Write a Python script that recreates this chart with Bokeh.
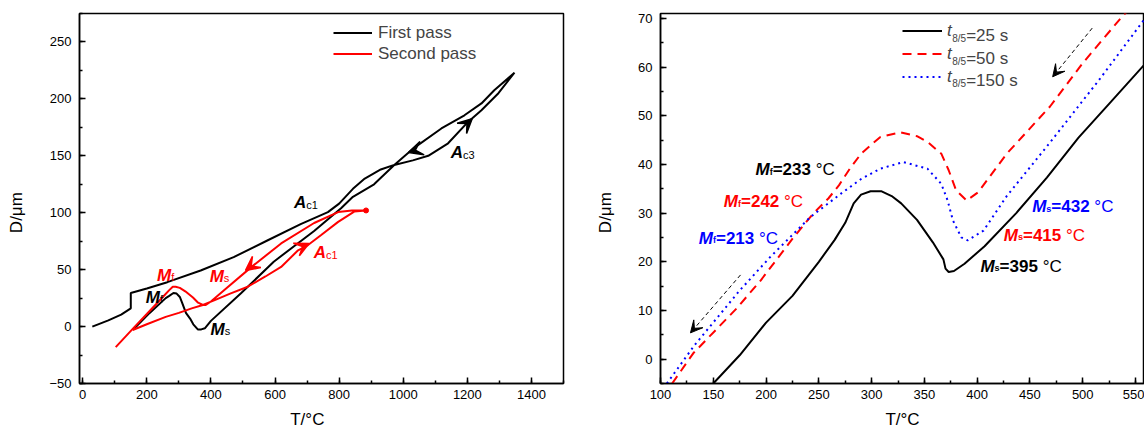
from bokeh.plotting import figure
from bokeh.models import (Label, Arrow, VeeHead, Legend, LegendItem, Range1d,
                          SingleIntervalTicker)
from bokeh.layouts import row
from bokeh.embed import file_html
from bokeh.resources import INLINE

FONT = "Liberation Sans"
RED = "#ff0000"
BLUE = "#0000ff"
NB = "\u00a0"

# ---------------- left panel data (T in degC, D in um) ----------------
first_T = [30, 80, 120, 150, 150, 200, 264, 368, 471, 576, 680, 765, 800, 843, 880, 930, 972,
           1030, 1078, 1140, 1203, 1244, 1297, 1347,
           1284, 1244, 1191, 1119, 1034, 972, 909, 843, 806, 722, 596, 493, 400, 381, 370,
           359, 345, 335, 322, 310, 303, 293, 283, 270, 259, 209, 160]
first_D = [0, 5.5, 10.5, 16, 29.5, 33.5, 39, 49.3, 61, 75.6, 90, 100.5, 108, 121, 130, 138, 142,
           146, 150, 161, 180, 190, 205, 223,
           207.6, 196, 185.6, 174, 157, 142, 125, 114, 104, 84, 57, 29, 5, -1.5, -2.5,
           -2.5, 2, 7, 12, 21, 26, 29, 29.5, 27, 25, 12, -2]

second_T = [156, 200, 259, 300, 340, 375, 410, 460, 515, 570, 619, 672, 703, 744, 797, 847, 884,
            840, 797, 722, 619, 525, 441, 400, 384, 375, 360, 344, 320, 303, 290, 281, 270, 250,
            200, 156, 103]
second_D = [-3, 2, 8.5, 12, 16, 19, 23, 29, 35, 44, 52.4, 67, 71.6, 80.4, 92, 101, 102,
            102, 100.6, 91, 73, 52, 32, 22, 19, 19, 21, 25.5, 31, 34, 35, 35, 32, 26,
            11, -2, -18]

# arrows on the curves (start -> tip)
arrL_x0 = [1190, 1045, 680, 530]
arrL_y0 = [176, 155.5, 69.5, 54]
arrL_x1 = [1215, 1017, 706, 508]
arrL_y1 = [182.5, 153, 73, 49.3]
arrL_col = ["black", "black", RED, RED]

# labels  (main letter + subscript)
labL_x = [197, 399, 232, 396, 721, 659, 1148]
labL_y = [20.5, -7.8, 39.9, 39, 59.5, 103.5, 147.4]
labL_main = ["M", "M", "M", "M", "A", "A", "A"]
labL_sub = ["f", "s", "f", "s", "c1", "c1", "c3"]
labL_col = ["black", "black", RED, RED, RED, "black", "black"]

# ---------------- right panel data ----------------
t25_T = [150, 175, 200, 225, 250, 265, 275, 283, 290, 299, 309, 319, 328, 343, 358, 368, 370,
         373, 378, 388, 407, 437, 466, 496, 526, 558]
t25_D = [-5, 0.8, 7.5, 13, 20, 24.5, 28, 32, 33.8, 34.5, 34.5, 33.5, 32, 28.6, 24, 20.5, 18.6,
         17.9, 18.1, 19.6, 23.2, 30, 37.3, 45.5, 52.7, 60.4]

t50_T = [111, 131, 172, 195, 226, 245, 259, 269, 279, 290, 308, 327, 343, 353, 366, 373, 380,
         390, 401, 428, 469, 500, 537, 556]
t50_D = [-5, 1.2, 10.4, 16.2, 25, 30, 33, 35.7, 39, 42.2, 45.6, 46.6, 45.8, 44.6, 42.2, 38.8,
         34.7, 32.6, 34.3, 42.2, 51.9, 60.8, 70.3, 74.5]

t150_T = [106, 132, 175, 204, 242, 271, 290, 308, 330, 353, 366, 372, 377, 385, 391, 406, 428,
          469, 516, 558]
t150_D = [-5, 2.8, 14.1, 21, 29.2, 34, 37, 39.1, 40.5, 39.1, 36, 32.6, 28.5, 25, 24.4, 26.4,
          33.5, 44.5, 57.5, 69.7]

arrR_x0 = [509, 175.8]
arrR_y0 = [68, 17.3]
arrR_x1 = [471.5, 128.4]
arrR_y1 = [58, 5.4]

labR_x = [190.0, 160.0, 136.3, 452.1, 425.2, 403.1]
labR_y = [37.7, 31.1, 23.6, 30.1, 24.2, 17.9]
labR_sub = ["f", "f", "f", "s", "s", "s"]
labR_val = ["=233", "=242", "=213", "=432", "=415", "=395"]
labR_col = ["black", RED, BLUE, BLUE, RED, "black"]

legR_sub = ["8/5", "8/5", "8/5"]
legR_val = ["=25 s", "=50 s", "=150 s"]
legR_x = 371.9
legR_y = [66.5, 61.8, 57.2]

# --------------- text width helper (Arial metrics) ---------------
REG = {' ': 278, '=': 584, '°': 400, 'C': 722, 'M': 833, 'f': 278, 's': 500, 'A': 667,
       'c': 500, 't': 278, '/': 278, 'D': 722, 'μ': 576, 'm': 833, 'T': 611}
BOLD = {' ': 278, '=': 584, '°': 400, 'C': 722, 'M': 833, 'f': 333, 's': 556, 'A': 722,
        'c': 556, '/': 278}
LIFT = 6  # px: move the annotation labels up so they sit where the reference shows them


def tw(s, size, bold=False):
    tab = BOLD if bold else REG
    return sum(tab.get(ch, 556) for ch in s) * size / 1000.0


def rich(p, x, y, pieces, color):
    off = 0.0
    for text, size, style, dy in pieces:
        bold = "bold" in style
        lead = len(text) - len(text.lstrip(" "))
        off += tw(" " * lead, size, bold)
        text = text.lstrip(" ")
        p.add_layout(Label(x=x, y=y, x_offset=off, y_offset=dy + LIFT, text=text,
                           text_font=FONT, text_font_size=f"{size}px", text_font_style=style,
                           text_color=color, text_baseline="alphabetic", text_align="left"))
        off += tw(text, size, bold)


def base(width, xr, yr, ml, mr, xint, yint, xlabel, ylabel):
    p = figure(width=width, height=433, x_range=Range1d(*xr), y_range=Range1d(*yr),
               output_backend="svg", toolbar_location=None,
               min_border_left=ml, min_border_right=mr, min_border_top=13, min_border_bottom=50)
    p.grid.visible = False
    p.outline_line_color = "black"
    p.outline_line_width = 1.5
    p.outline_line_alpha = 1
    p.xaxis.ticker = SingleIntervalTicker(interval=xint, num_minor_ticks=2)
    p.yaxis.ticker = SingleIntervalTicker(interval=yint, num_minor_ticks=2)
    for ax in (p.xaxis[0], p.yaxis[0]):
        ax.axis_line_width = 1.5
        ax.axis_line_color = "black"
        ax.major_tick_in = 6
        ax.major_tick_out = 0
        ax.minor_tick_in = 3
        ax.minor_tick_out = 0
        ax.major_tick_line_width = 1.5
        ax.minor_tick_line_width = 1.5
        ax.major_tick_line_color = "black"
        ax.minor_tick_line_color = "black"
        ax.major_label_text_font = FONT
        ax.major_label_text_font_size = "13px"
        ax.major_label_text_color = "black"
        ax.axis_label_text_font = FONT
        ax.axis_label_text_font_size = "17px"
        ax.axis_label_text_font_style = "normal"
        ax.axis_label_text_color = "black"
    p.xaxis.axis_label = xlabel
    p.yaxis.axis_label = ylabel
    p.xaxis.major_label_standoff = 6
    p.yaxis.major_label_standoff = 8
    p.xaxis.axis_label_standoff = 8
    p.yaxis.axis_label_standoff = 20
    return p


# ================= left figure =================
pL = base(565, (-10, 1500), (-50, 275), 79, 2, 200, 50, "T/°C" + NB * 6, "D/μm" + NB * 6)
r1 = pL.line(first_T, first_D, line_color="black", line_width=2)
r2 = pL.line(second_T, second_D, line_color=RED, line_width=2)
iend = second_T.index(max(second_T))
pL.scatter([second_T[iend]], [second_D[iend]], size=5, color=RED)

for x0, y0, x1, y1, c in zip(arrL_x0, arrL_y0, arrL_x1, arrL_y1, arrL_col):
    pL.add_layout(Arrow(x_start=x0, y_start=y0, x_end=x1, y_end=y1, line_alpha=0,
                        end=VeeHead(size=14, fill_color=c, line_color=c, line_width=1.5)))

for x, y, m, s, c in zip(labL_x, labL_y, labL_main, labL_sub, labL_col):
    rich(pL, x, y, [(m, 17, "bold italic", 0), (s, 11, "normal", -2)], c)

legL = Legend(items=[LegendItem(label="First pass", renderers=[r1]),
                     LegendItem(label="Second pass", renderers=[r2])],
              location=(254, 319))
legL.padding = 0
legL.margin = 0
legL.spacing = 0
legL.glyph_width = 39
legL.glyph_height = 21
legL.label_height = 21
legL.label_standoff = 6
legL.label_text_font = FONT
legL.label_text_font_size = "17px"
legL.border_line_alpha = 0
legL.background_fill_alpha = 0
pL.add_layout(legL)

# ================= right figure =================
pR = base(579, (100, 558.5), (-5, 71), 95, 0, 50, 10, "T/°C", "D/μm" + NB * 6)
s1 = pR.line(t25_T, t25_D, line_color="black", line_width=2)
s2 = pR.line(t50_T, t50_D, line_color=RED, line_width=2, line_dash="9 6")
s3 = pR.line(t150_T, t150_D, line_color=BLUE, line_width=2, line_dash="2 4")

for x0, y0, x1, y1 in zip(arrR_x0, arrR_y0, arrR_x1, arrR_y1):
    pR.add_layout(Arrow(x_start=x0, y_start=y0, x_end=x1, y_end=y1, line_color="black",
                        line_width=1, line_dash="4 3",
                        end=VeeHead(size=12, fill_color="black", line_color="black",
                                    line_width=1)))

for x, y, s, v, c in zip(labR_x, labR_y, labR_sub, labR_val, labR_col):
    rich(pR, x, y, [("M", 17, "bold italic", 0), (s, 9, "bold", -2),
                    (v, 17, "bold", 0), (" °C", 17, "normal", 0)], c)

legR = Legend(items=[LegendItem(label="t", renderers=[s1]),
                     LegendItem(label="t", renderers=[s2]),
                     LegendItem(label="t", renderers=[s3])],
              location=(242, 295))
legR.padding = 0
legR.margin = 0
legR.spacing = 0
legR.glyph_width = 40
legR.glyph_height = 23
legR.label_height = 23
legR.label_standoff = 5
legR.label_text_font = FONT
legR.label_text_font_size = "17px"
legR.label_text_font_style = "italic"
legR.border_line_alpha = 0
legR.background_fill_alpha = 0
pR.add_layout(legR)

for y, s, v in zip(legR_y, legR_sub, legR_val):
    p_off = tw("t", 17)
    pR.add_layout(Label(x=legR_x, y=y, x_offset=p_off, y_offset=-3, text=s, text_font=FONT,
                        text_font_size="10px", text_baseline="alphabetic"))
    pR.add_layout(Label(x=legR_x, y=y, x_offset=p_off + tw(s, 10), text=v, text_font=FONT,
                        text_font_size="17px", text_baseline="alphabetic"))

layout = row(pL, pR)
open("out.html", "w").write(file_html(layout, INLINE))
